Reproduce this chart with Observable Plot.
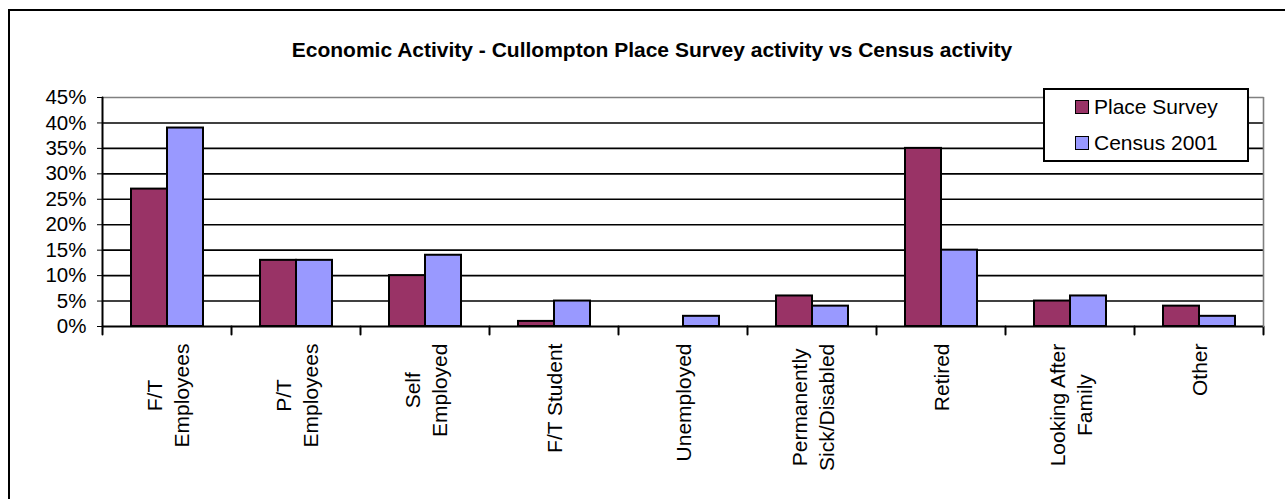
<!DOCTYPE html>
<html><head><meta charset="utf-8">
<script src="https://cdn.jsdelivr.net/npm/d3@7"></script>
<script src="https://cdn.jsdelivr.net/npm/@observablehq/plot@0.6"></script>
<style>
html,body{margin:0;padding:0;background:#fff;overflow:hidden;width:1285px;height:499px;}
#wrap{position:relative;width:1285px;height:499px;overflow:hidden;font-family:"Liberation Sans",Arial,sans-serif;color:#000;}
#border{position:absolute;left:8px;top:9px;width:1400px;height:700px;border:2px solid #000;}
#chart{position:absolute;left:0;top:0;}
#title{position:absolute;left:0;width:1304px;top:38px;line-height:24px;text-align:center;font-weight:bold;font-size:21px;white-space:nowrap;}
#legend{position:absolute;left:1043px;top:88px;width:202px;height:70px;border:2px solid #000;background:#fff;}
.row{position:absolute;left:30px;height:24px;display:flex;align-items:center;font-size:21px;line-height:24px;white-space:nowrap;}
.sw{width:12px;height:12px;border:1.5px solid #000;margin-right:5px;}
</style>
</head><body>
<div id="wrap">
  <div id="border"></div>
  <div id="chart"></div>
  <div id="title"></div>
  <div id="legend"></div>
</div>
<script>
const title = "Economic Activity - Cullompton Place Survey activity vs Census activity";
const categories = ["F/T Employees","P/T Employees","Self Employed","F/T Student","Unemployed","Permanently Sick/Disabled","Retired","Looking After Family","Other"];
const tickLabels = ["F/T\nEmployees","P/T\nEmployees","Self\nEmployed","F/T Student","Unemployed","Permanently\nSick/Disabled","Retired","Looking After\nFamily","Other"];
const series = ["Place Survey","Census 2001"];
const placeSurvey = [27,13,10,1,0,6,35,5,4];
const census2001 = [39,13,14,5,2,4,15,6,2];
const yTicks = [0,5,10,15,20,25,30,35,40,45];
const colors = ["#993366","#9999FF"];

const data = categories.flatMap((c,i)=>[
  {category:c, series:series[0], value:placeSurvey[i]},
  {category:c, series:series[1], value:census2001[i]}
]);

const W=1285, H=499, mL=100, mR=21, mT=97, mB=173;
const innerH = H - mT - mB;
const lineShape = {draw(ctx, l){ ctx.moveTo(0,0); ctx.lineTo(0,-l); }};
const last = categories[categories.length-1];

const svg = Plot.plot({
  width:W, height:H, marginLeft:mL, marginRight:mR, marginTop:mT, marginBottom:mB,
  style:{fontFamily:"Liberation Sans, Arial, sans-serif", fontSize:"20.5px", background:"transparent", color:"#000", overflow:"visible"},
  fx:{domain:categories, padding:0, axis:null, label:null},
  x:{domain:series, paddingInner:0, paddingOuter:0.75, axis:null},
  y:{domain:[0,45], ticks:yTicks, tickFormat:d=>d+"%", tickSize:5, tickPadding:11, label:null},
  color:{domain:series, range:colors},
  marks:[
    Plot.ruleY(yTicks.filter(d=>d>0 && d<45), {stroke:"#000", strokeWidth:1.6}),
    Plot.ruleY([45], {stroke:"#808080", strokeWidth:1.6}),
    Plot.barY(data, {fx:"category", x:"series", y:"value", fill:"series", stroke:"#000", strokeWidth:2}),
    Plot.ruleY([0], {stroke:"#000", strokeWidth:2}),
    Plot.vector(categories, {fx:d=>d, frameAnchor:"bottom-left", anchor:"start", length:8, rotate:180, shape:lineShape, stroke:"#000", strokeWidth:2}),
    Plot.vector([last], {fx:d=>d, frameAnchor:"bottom-right", anchor:"start", length:8, rotate:180, shape:lineShape, stroke:"#000", strokeWidth:2}),
    Plot.vector([last], {fx:d=>d, frameAnchor:"bottom-right", anchor:"start", length:innerH, shape:lineShape, stroke:"#808080", strokeWidth:1.6}),
    Plot.vector([categories[0]], {fx:d=>d, frameAnchor:"bottom-left", anchor:"start", length:innerH, shape:lineShape, stroke:"#000", strokeWidth:2}),
    Plot.axisFx({anchor:"bottom", tickSize:0, tickRotate:-90, textAnchor:"end", lineAnchor:"middle", lineHeight:1.25, tickPadding:17, tickFormat:d=>tickLabels[categories.indexOf(d)], label:null, fontSize:21})
  ]
});
document.getElementById("chart").appendChild(svg);

// center multi-line rotated labels within their block (block top-aligned at the axis)
svg.querySelectorAll('[aria-label^="fx-axis tick label"] text').forEach(t=>{
  const w = t.getBBox().width;
  t.setAttribute("text-anchor","middle");
  t.setAttribute("transform", (t.getAttribute("transform")||"") + ` translate(${-w/2},0)`);
});

document.getElementById("title").textContent = title;
const leg = document.getElementById("legend");
series.forEach((s,i)=>{
  const row = document.createElement("div");
  row.className = "row";
  row.style.top = (5 + i*36) + "px";
  const sw = document.createElement("div");
  sw.className = "sw";
  sw.style.background = colors[i];
  const lab = document.createElement("span");
  lab.textContent = s;
  row.appendChild(sw); row.appendChild(lab);
  leg.appendChild(row);
});
</script>
</body></html>
